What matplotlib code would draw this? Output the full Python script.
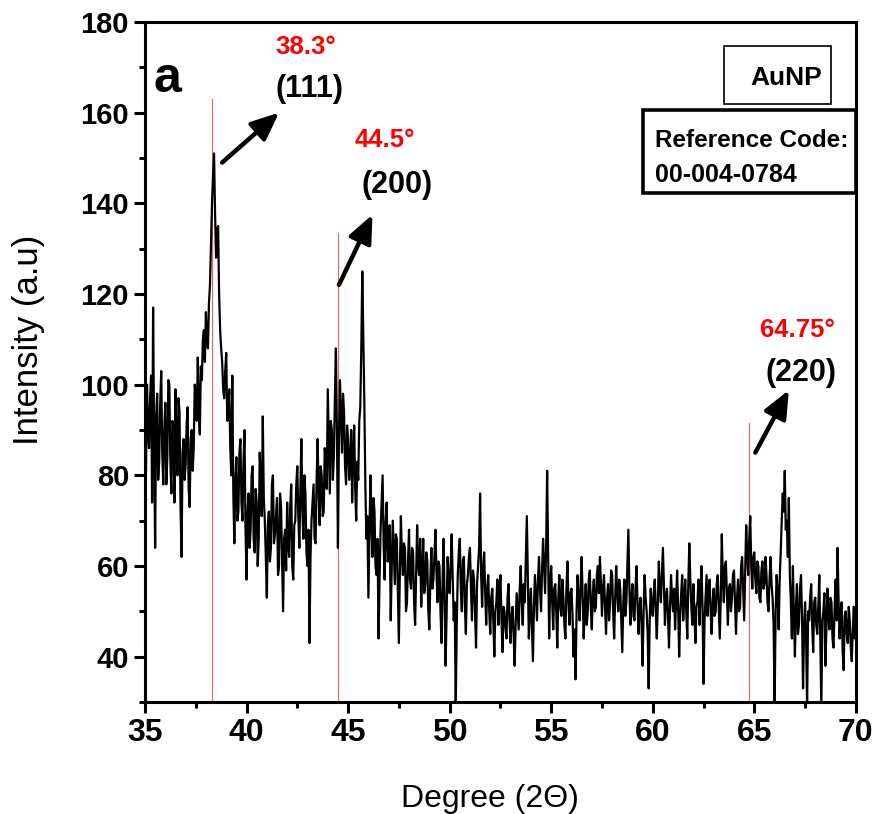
import numpy as np
import matplotlib
matplotlib.use("Agg")
import matplotlib.pyplot as plt
from matplotlib.ticker import MultipleLocator
from matplotlib.patches import Rectangle

# 2-theta grid, 0.05 degree step from 35 to 70
two_theta_start = 35.0
two_theta_step = 0.05

# intensity, one row per degree
intensity = [
    92, 81, 100, 90, 86, 97, 102, 74, 117, 88, 64, 93, 98, 79, 83, 96, 103, 85, 78, 90,      # 35
    96, 78, 84, 101, 100, 83, 76, 92, 91, 74, 99, 86, 80, 97, 94, 73, 62, 85, 88, 79,        # 36
    82, 91, 95, 77, 73, 88, 90, 81, 86, 100, 98, 92, 106, 94, 89, 104, 101, 110, 112, 105,   # 37
    116, 110, 108, 118, 122, 131, 140, 146, 151, 138, 128, 134, 135, 120, 112, 108, 105, 99, 97, 103,  # 38
    107, 92, 94, 99, 86, 80, 102, 76, 65, 79, 84, 70, 72, 85, 88, 74, 70, 83, 90, 68,        # 39
    57, 72, 76, 64, 68, 80, 82, 66, 63, 77, 74, 60, 66, 85, 79, 71, 93, 75, 70, 62,          # 40
    53, 69, 72, 61, 64, 78, 80, 65, 67, 71, 75, 58, 60, 76, 73, 62, 50, 66, 68, 59,          # 41
    74, 65, 62, 73, 78, 60, 57, 69, 70, 78, 82, 71, 64, 77, 88, 72, 66, 80, 76, 63,          # 42
    60, 68, 43, 62, 70, 74, 78, 66, 65, 79, 88, 76, 69, 82, 80, 71, 72, 86, 83, 77,          # 43
    99, 87, 76, 92, 90, 79, 84, 97, 108, 90, 64, 88, 101, 93, 85, 98, 94, 82, 78, 91,        # 44
    88, 79, 82, 90, 74, 85, 91, 77, 70, 83, 79, 92, 95, 108, 125, 110, 96, 78, 66, 71,       # 45
    53, 66, 80, 70, 62, 75, 72, 60, 58, 66, 44, 57, 68, 74, 80, 65, 57, 70, 74, 61,          # 46
    62, 69, 48, 60, 70, 63, 56, 67, 66, 55, 43, 59, 71, 62, 58, 65, 64, 50, 52, 61,          # 47
    68, 57, 55, 64, 63, 52, 47, 58, 69, 60, 58, 66, 51, 59, 66, 54, 56, 63, 61, 50,          # 48
    46, 57, 64, 55, 57, 62, 68, 59, 52, 61, 60, 50, 43, 56, 66, 53, 38, 49, 62, 57,          # 49
    54, 60, 67, 57, 48, 52, 29, 47, 58, 63, 66, 55, 50, 61, 62, 51, 45, 56, 58, 62,          # 50
    64, 55, 48, 59, 57, 50, 42, 56, 60, 64, 76, 58, 51, 60, 63, 54, 47, 55, 58, 50,          # 51
    45, 53, 55, 48, 40, 50, 52, 57, 47, 54, 58, 49, 41, 51, 50, 46, 44, 53, 56, 48,          # 52
    43, 49, 51, 45, 38, 47, 54, 50, 46, 55, 60, 52, 47, 56, 52, 62, 71, 58, 44, 50,          # 53
    55, 47, 39, 51, 58, 53, 48, 57, 62, 55, 50, 59, 66, 60, 54, 64, 81, 62, 44, 56,          # 54
    60, 52, 46, 55, 56, 50, 42, 53, 58, 51, 49, 57, 53, 47, 44, 55, 61, 52, 47, 54,          # 55
    55, 49, 40, 46, 35, 50, 58, 52, 48, 56, 62, 53, 44, 51, 56, 47, 50, 57, 59, 51,          # 56
    46, 54, 57, 50, 51, 58, 60, 54, 62, 56, 49, 55, 58, 51, 45, 53, 56, 48, 52, 59,          # 57
    58, 50, 44, 53, 60, 54, 50, 57, 55, 48, 41, 52, 57, 49, 52, 60, 68, 55, 47, 53,          # 58
    56, 49, 48, 55, 60, 52, 45, 51, 53, 47, 38, 50, 58, 53, 50, 45, 33, 48, 55, 51,          # 59
    49, 54, 57, 50, 44, 52, 61, 55, 52, 58, 64, 56, 47, 53, 55, 49, 42, 51, 58, 53,          # 60
    50, 55, 46, 52, 59, 51, 40, 49, 54, 58, 48, 53, 57, 50, 44, 56, 65, 57, 51, 47,          # 61
    56, 50, 43, 51, 52, 57, 47, 54, 60, 51, 34, 48, 53, 58, 49, 55, 57, 50, 45, 52,          # 62
    55, 49, 50, 56, 58, 51, 44, 53, 67, 57, 52, 60, 61, 54, 47, 55, 56, 50, 53, 58,          # 63
    59, 52, 45, 53, 57, 50, 51, 60, 62, 55, 48, 59, 69, 63, 58, 66, 71, 60, 55, 62,          # 64
    63, 57, 54, 61, 60, 53, 52, 59, 61, 55, 56, 62, 58, 52, 50, 57, 62, 56, 53, 47,          # 65
    29, 50, 58, 54, 46, 57, 63, 70, 76, 72, 81, 68, 70, 62, 75, 58, 52, 44, 60, 49,          # 66
    40, 51, 56, 45, 47, 55, 58, 49, 33, 46, 52, 44, 29, 50, 48, 53, 56, 47, 41, 52,          # 67
    53, 47, 45, 51, 58, 44, 29, 48, 50, 54, 38, 46, 55, 49, 46, 53, 52, 44, 42, 50,          # 68
    57, 48, 64, 52, 44, 50, 52, 41, 37, 49, 50, 45, 43, 51, 48, 42, 39, 46, 51, 44,          # 69
    45,                                                                                       # 70
]

# reference peak positions, heights of the red marker lines, labels
peak_pos = [38.3, 44.5, 64.75]
peak_line_top = [163, 133.5, 91.5]
peak_angle_labels = ["38.3°", "44.5°", "64.75°"]
peak_hkl = ["(111)", "(200)", "(220)"]

x_ticks = [35, 40, 45, 50, 55, 60, 65, 70]
y_ticks = [40, 60, 80, 100, 120, 140, 160, 180]

two_theta = two_theta_start + two_theta_step * np.arange(len(intensity))

font = ["Liberation Sans", "DejaVu Sans"]

fig = plt.figure(figsize=(8.76, 8.14), dpi=100)
ax = fig.add_axes([0.1655, 0.1376, 0.8115, 0.8354])

ax.plot(two_theta, intensity, color="black", lw=1.6, zorder=3)

for p, top in zip(peak_pos, peak_line_top):
    ax.plot([p, p], [30, top], color="#ff5a5a", lw=0.8, zorder=2)

ax.set_xlim(35, 70)
ax.set_ylim(30, 180)
ax.set_xticks(x_ticks)
ax.set_yticks(y_ticks)
ax.xaxis.set_minor_locator(MultipleLocator(2.5))
ax.yaxis.set_minor_locator(MultipleLocator(10))
ax.tick_params(which="major", direction="out", length=8, width=2.2)
ax.tick_params(which="minor", direction="out", length=4, width=2.2)
for lab in ax.get_xticklabels():
    lab.set_fontfamily(font)
    lab.set_fontweight("bold")
    lab.set_fontsize(23)
for lab in ax.get_yticklabels():
    lab.set_fontfamily(font)
    lab.set_fontweight("bold")
    lab.set_fontsize(21)
for s in ax.spines.values():
    s.set_linewidth(2.2)

ax.set_xlabel("Degree (2Θ)", fontsize=23, family=font)
ax.set_ylabel("Intensity (a.u)", fontsize=25, family=font)
ax.xaxis.set_label_coords(0.485, -0.12)
ax.yaxis.set_label_coords(-0.14, 0.532)

# panel letter
ax.text(36.1, 167.5, "a", fontsize=36, fontweight="bold", family=font,
        ha="center", va="center")

# peak annotations: angle (red), hkl (black), arrow
angle_xy = [(42.9, 174.5), (46.8, 154.0), (67.1, 112.0)]
hkl_xy = [(43.1, 165.3), (47.4, 144.0), (67.3, 102.6)]
arrow_tail = [(38.8, 149.0), (44.55, 122.0), (65.05, 85.0)]
arrow_head = [(41.6, 160.0), (46.2, 137.5), (66.7, 98.8)]
for i in range(3):
    ax.text(*angle_xy[i], peak_angle_labels[i], color="red", fontsize=18.5,
            fontweight="bold", family=font, ha="center", va="center")
    ax.text(*hkl_xy[i], peak_hkl[i], color="black", fontsize=22,
            fontweight="bold", family=font, ha="center", va="center")
    ax.annotate("", xy=arrow_head[i], xytext=arrow_tail[i],
                arrowprops=dict(arrowstyle="-|>,head_length=0.6,head_width=0.26",
                                color="black", lw=3.2, mutation_scale=28,
                                shrinkA=0, shrinkB=0))

# legend-like boxes
ax.add_patch(Rectangle((0.814, 0.879), 0.151, 0.086, transform=ax.transAxes,
                       fill=False, edgecolor="black", lw=1.2, zorder=4))
ax.text(0.9015, 0.918, "AuNP", transform=ax.transAxes, fontsize=19,
        fontweight="bold", family=font, ha="center", va="center")
ax.add_patch(Rectangle((0.700, 0.749), 0.300, 0.122, transform=ax.transAxes,
                       fill=False, edgecolor="black", lw=2.6, zorder=4))
ax.text(0.717, 0.826, "Reference Code:", transform=ax.transAxes, fontsize=17.5,
        fontweight="bold", family=font, ha="left", va="center")
ax.text(0.717, 0.775, "00-004-0784", transform=ax.transAxes, fontsize=18,
        fontweight="bold", family=font, ha="left", va="center")

fig.savefig("out.png", dpi=100)
